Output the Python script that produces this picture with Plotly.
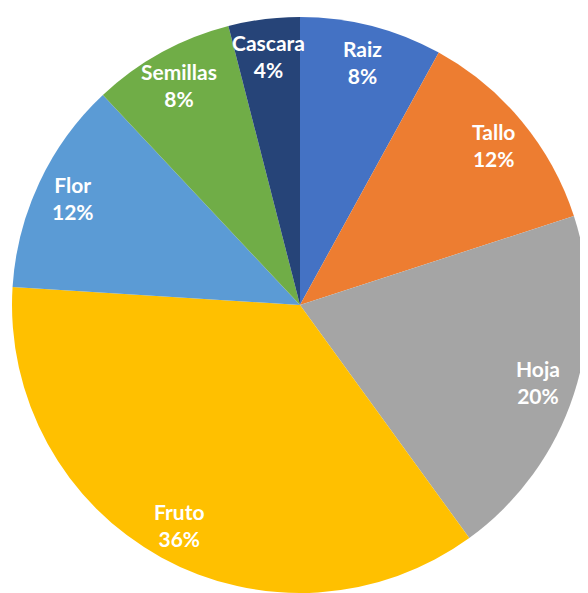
import math
import plotly.graph_objects as go

categories = ["Raiz", "Tallo", "Hoja", "Fruto", "Flor", "Semillas", "Cascara"]
values = [8, 12, 20, 36, 12, 8, 4]
colors = ["#4472C4", "#ED7D31", "#A5A5A5", "#FFC000", "#5B9BD5", "#70AD47", "#264478"]

W, H = 588, 593
CX, CY, R = 292, 297, 288          # pie centre and radius in pixels
LABEL_R = 0.87                     # labels placed near the rim (Excel "best fit")

fig = go.Figure(go.Pie(
    labels=categories,
    values=values,
    sort=False,
    direction="clockwise",
    rotation=0,
    marker=dict(colors=colors, line=dict(color="white", width=0)),
    textinfo="none",
    domain=dict(x=[(CX - R) / W, (CX + R) / W], y=[(H - CY - R) / H, (H - CY + R) / H]),
    showlegend=False,
    hoverinfo="label+percent",
))

total = sum(values)
cum = 0
annotations = []
for cat, v in zip(categories, values):
    mid = (cum + v / 2) / total
    cum += v
    theta = 2 * math.pi * mid
    px = CX + LABEL_R * R * math.sin(theta)
    py = CY - LABEL_R * R * math.cos(theta)
    pct = round(100 * v / total)
    annotations.append(dict(
        x=px / W, y=1 - py / H, xref="paper", yref="paper",
        text=f"<b>{cat}</b><br><b>{pct}%</b>",
        showarrow=False, xanchor="center", yanchor="middle",
        font=dict(family="Lato", size=21, color="white"),
    ))

fig.update_layout(
    width=W, height=H,
    margin=dict(l=0, r=0, t=0, b=0),
    paper_bgcolor="white",
    plot_bgcolor="white",
    annotations=annotations,
)

fig.write_html("out.html")
